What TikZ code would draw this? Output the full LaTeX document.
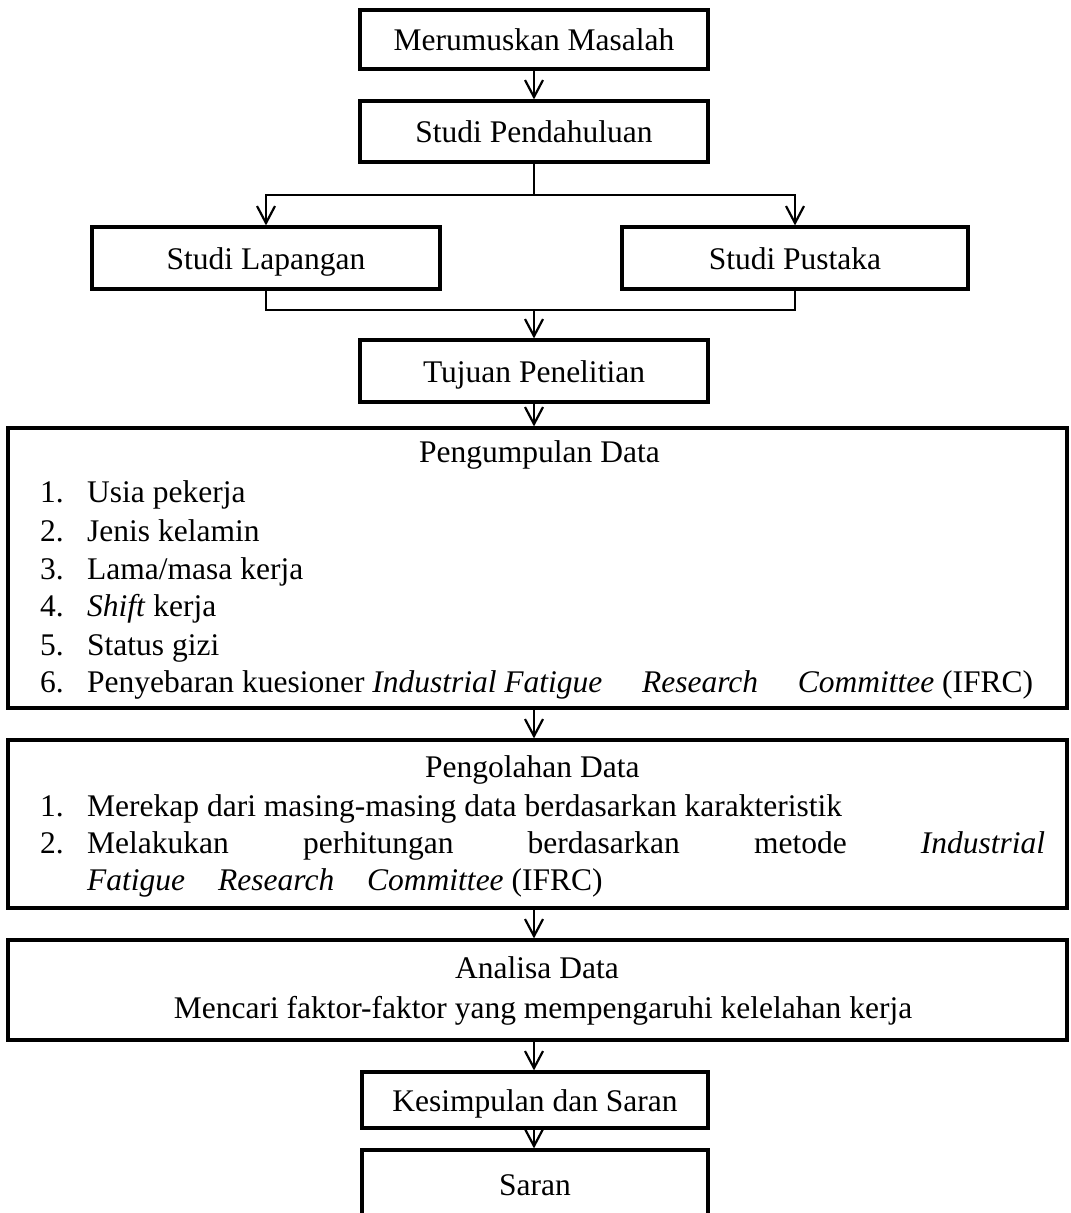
\documentclass[tikz,border=0pt]{standalone}
\usepackage{fontspec}
\setmainfont{Liberation Serif}
\usetikzlibrary{arrows.meta}
\tikzset{
  box/.style={draw, line width=3.2pt, inner sep=0pt, align=center, text height=22pt, text depth=0pt},
  txt/.style={inner sep=0pt, anchor=base west},
  conn/.style={line width=2.2pt},
  arr/.style={line width=2.2pt, -{Straight Barb[length=17pt,width=18pt]}}
}
\begin{document}
\begin{tikzpicture}[x=1pt,y=-1pt,font=\fontsize{31.5pt}{38pt}\selectfont]
\useasboundingbox (0,0) rectangle (1071,1213);
\clip (0,0) rectangle (1071,1213);
% small boxes
\node[box, minimum width=348pt, minimum height=59pt] (mm) at (534,39.5) {Merumuskan Masalah};
\node[box, minimum width=348pt, minimum height=61pt] (sp) at (534,131.5) {Studi Pendahuluan};
\node[box, minimum width=348pt, minimum height=62pt] (sl) at (266,258) {Studi Lapangan};
\node[box, minimum width=346pt, minimum height=62pt] (spu) at (795,258) {Studi Pustaka};
\node[box, minimum width=348pt, minimum height=62pt] (tp) at (534,371) {Tujuan Penelitian};
% big boxes
\node[box, minimum width=1059pt, minimum height=280pt] (pd) at (537.5,568) {};
\node[box, minimum width=1059pt, minimum height=168pt] (po) at (537.5,824) {};
\node[box, minimum width=1059pt, minimum height=100pt] (ad) at (537.5,990) {};
\node[box, minimum width=346pt, minimum height=56pt] (ks) at (535,1100) {Kesimpulan dan Saran};
\node[box, minimum width=346pt, minimum height=68pt] (sr) at (535,1184) {Saran};
% Pengumpulan Data text
\node[txt] (pdt) at (419,462) {Pengumpulan Data};
\node[txt] (pn1) at (40,502) {1.};
\node[txt] (pi1) at (87,502) {Usia pekerja};
\node[txt] (pn2) at (40,541) {2.};
\node[txt] (pi2) at (87,541) {Jenis kelamin};
\node[txt] (pn3) at (40,579) {3.};
\node[txt] (pi3) at (87,579) {Lama/masa kerja};
\node[txt] (pn4) at (40,616) {4.};
\node[txt] (pi4) at (87,616) {\textit{Shift} kerja};
\node[txt] (pn5) at (40,655) {5.};
\node[txt] (pi5) at (87,655) {Status gizi};
\node[txt] (pn6) at (40,692) {6.};
\node[txt] (pi6) at (87,692) {\makebox[946pt][s]{Penyebaran kuesioner \textit{Industrial Fatigue}\hfill\textit{Research}\hfill\textit{Committee} (IFRC)}};
% Pengolahan Data text
\node[txt] (pot) at (425,777) {Pengolahan Data};
\node[txt] (on1) at (40,816) {1.};
\node[txt] (oi1) at (87,816) {Merekap dari masing-masing data berdasarkan karakteristik};
\node[txt] (on2) at (40,853) {2.};
\node[txt] (oi2) at (87,853) {\makebox[958pt][s]{Melakukan\hfill perhitungan\hfill berdasarkan\hfill metode\hfill\textit{Industrial}}};
\node[txt] (oi3) at (87,890) {\textit{Fatigue}\hspace{33pt}\textit{Research}\hspace{33pt}\textit{Committee} (IFRC)};
% Analisa Data text
\node[inner sep=0pt, anchor=base] (adt) at (537,978) {Analisa Data};
\node[inner sep=0pt, anchor=base] (ad2) at (543,1018) {Mencari faktor-faktor yang mempengaruhi kelelahan kerja};
% connectors
\draw[arr] (mm.south) -- (sp.north);
\coordinate (split) at (534,195);
\draw[conn] (sp.south) -- (split);
\draw[arr] (split) -| (sl.north);
\draw[arr] (split) -| (spu.north);
\coordinate (join) at (534,310);
\draw[conn] (sl.south) |- (join);
\draw[conn] (spu.south) |- (join);
\draw[arr] (join) -- (tp.north);
\draw[arr] (tp.south) -- (tp.south |- pd.north);
\draw[arr] (tp.south |- pd.south) -- (tp.south |- po.north);
\draw[arr] (tp.south |- po.south) -- (tp.south |- ad.north);
\draw[arr] (tp.south |- ad.south) -- (tp.south |- ks.north);
\draw[arr] (tp.south |- ks.south) -- (tp.south |- sr.north);
\end{tikzpicture}
\end{document}
